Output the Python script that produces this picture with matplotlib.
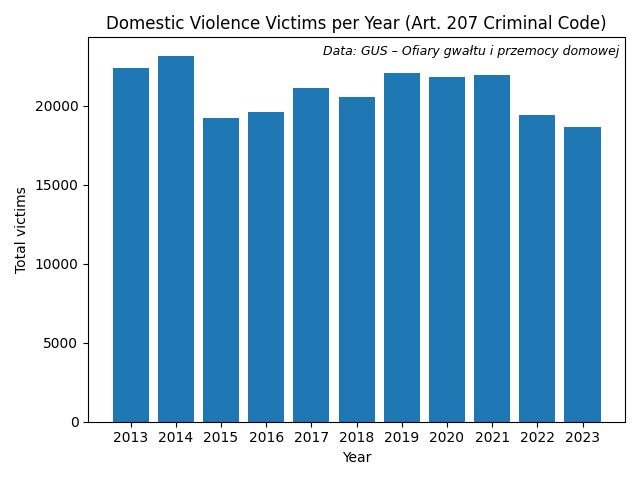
import matplotlib
matplotlib.use('Agg')
import matplotlib.pyplot as plt

years = ['2013', '2014', '2015', '2016', '2017', '2018', '2019', '2020', '2021', '2022', '2023']
victims = [22400, 23170, 19240, 19620, 21140, 20570, 22090, 21840, 21960, 19430, 18670]

fig, ax = plt.subplots(figsize=(6.4, 4.8), dpi=100)
ax.bar(years, victims, color='#1f77b4')
ax.set_title('Domestic Violence Victims per Year (Art. 207 Criminal Code)')
ax.set_xlabel('Year')
ax.set_ylabel('Total victims')
ax.text(0.99, 0.98, 'Data: GUS \u2013 Ofiary gwa\u0142tu i przemocy domowej',
        transform=ax.transAxes, ha='right', va='top', fontsize=9, style='italic')
plt.tight_layout()
plt.savefig('out.png')
